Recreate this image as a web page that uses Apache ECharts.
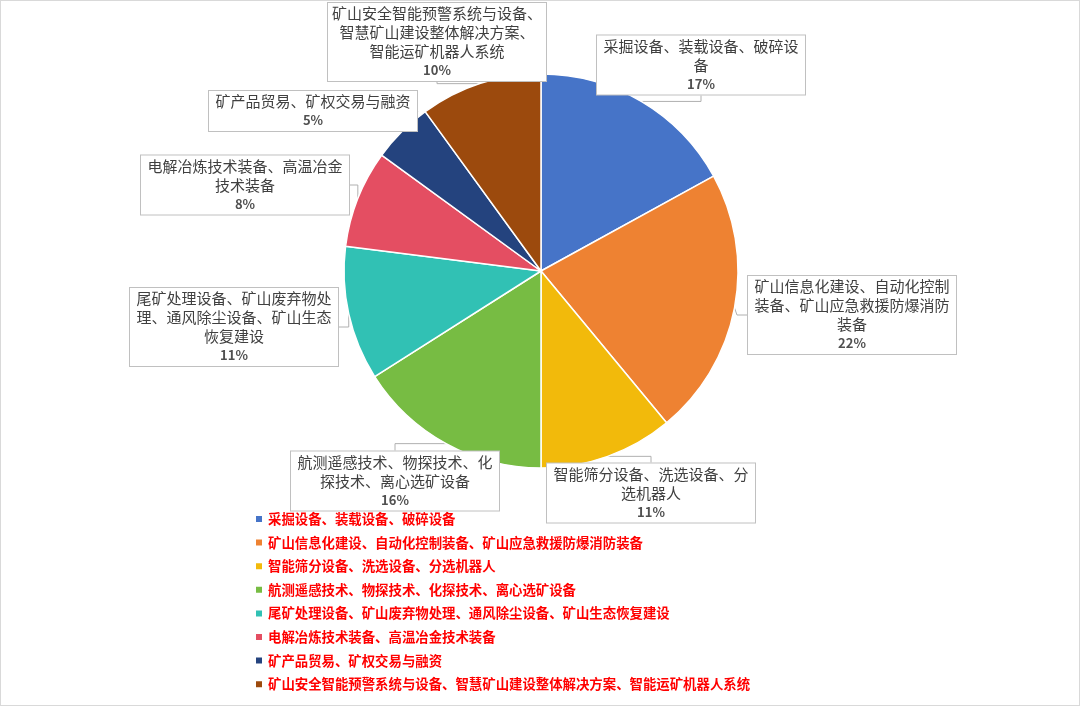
<!DOCTYPE html>
<html>
<head>
  <meta charset="utf-8">
  <title>矿山装备分类占比</title>
  <script src="https://cdn.jsdelivr.net/npm/echarts@6/dist/echarts.min.js"></script>
  <style>
    html, body { margin: 0; padding: 0; background: #fff; }
    #main {
      width: 1078px;
      height: 704px;
      border: 1px solid #d9d9d9;
    }
  </style>
</head>
<body>
<div id="main"></div>
<script>
  // 分类名称（图例用）
  var categories = [
    '采掘设备、装载设备、破碎设备',
    '矿山信息化建设、自动化控制装备、矿山应急救援防爆消防装备',
    '智能筛分设备、洗选设备、分选机器人',
    '航测遥感技术、物探技术、化探技术、离心选矿设备',
    '尾矿处理设备、矿山废弃物处理、通风除尘设备、矿山生态恢复建设',
    '电解冶炼技术装备、高温冶金技术装备',
    '矿产品贸易、矿权交易与融资',
    '矿山安全智能预警系统与设备、智慧矿山建设整体解决方案、智能运矿机器人系统'
  ];
  // 占比（%）
  var shares = [17, 22, 11, 16, 11, 8, 5, 10];
  // 数据标签里的换行文字
  var labelTexts = [
    '采掘设备、装载设备、破碎设\n备',
    '矿山信息化建设、自动化控制\n装备、矿山应急救援防爆消防\n装备',
    '智能筛分设备、洗选设备、分\n选机器人',
    '航测遥感技术、物探技术、化\n探技术、离心选矿设备',
    '尾矿处理设备、矿山废弃物处\n理、通风除尘设备、矿山生态\n恢复建设',
    '电解冶炼技术装备、高温冶金\n技术装备',
    '矿产品贸易、矿权交易与融资',
    '矿山安全智能预警系统与设备、\n智慧矿山建设整体解决方案、\n智能运矿机器人系统'
  ];
  var colors = ['#4674c8', '#ee8232', '#f2ba0b', '#77bc43', '#31c1b4', '#e44e62', '#24437e', '#9c4a0d'];

  // 标签框中心位置（像素）
  var labelBoxCenters = [
    [700, 64], [851, 314], [650, 492], [394, 480],
    [233, 326], [244, 184], [312, 110], [436, 41]
  ];

  var chart = echarts.init(document.getElementById('main'));

  var pieData = categories.map(function (name, i) {
    var item = { name: name, value: shares[i] };
    if (i === 7) {
      item.label = { width: 206 };
    }
    return item;
  });

  var option = {
    color: colors,
    animation: false,
    legend: {
      orient: 'vertical',
      left: 248,
      top: 505,
      itemWidth: 8,
      itemHeight: 8,
      itemGap: 7.6,
      icon: 'rect',
      textStyle: {
        color: '#ff0000',
        fontWeight: 'bold',
        fontSize: 13.4,
        lineHeight: 16,
        fontFamily: 'Noto Sans CJK SC'
      },
      data: categories
    },
    series: [
      {
        type: 'pie',
        center: [540, 270],
        radius: 197,
        startAngle: 90,
        clockwise: true,
        avoidLabelOverlap: false,
        itemStyle: {
          borderColor: '#ffffff',
          borderWidth: 1.5
        },
        label: {
          show: true,
          position: 'outside',
          width: 196,
          overflow: 'none',
          padding: [1, 6],
          backgroundColor: '#ffffff',
          borderColor: '#c0c0c0',
          borderWidth: 1,
          align: 'center',
          formatter: function (p) {
            return '{n|' + labelTexts[p.dataIndex] + '}\n{p|' + Math.round(p.percent) + '%}';
          },
          rich: {
            n: {
              fontSize: 15,
              lineHeight: 19,
              color: '#404040',
              fontFamily: 'Noto Sans CJK SC',
              align: 'center'
            },
            p: {
              fontSize: 13,
              lineHeight: 19,
              fontWeight: 'bold',
              color: '#505050',
              fontFamily: 'Noto Sans CJK SC',
              align: 'center'
            }
          }
        },
        labelLine: {
          show: true,
          length: 10,
          length2: 10,
          lineStyle: { color: '#b0b0b0', width: 1 }
        },
        labelLayout: function (params) {
          var c = labelBoxCenters[params.dataIndex];
          return {
            x: c[0],
            y: c[1],
            align: 'center',
            verticalAlign: 'middle'
          };
        },
        emphasis: { disabled: true },
        data: pieData
      }
    ]
  };

  chart.setOption(option);

  window.onresize = function () {
    chart.resize();
  };
</script>
</body>
</html>
